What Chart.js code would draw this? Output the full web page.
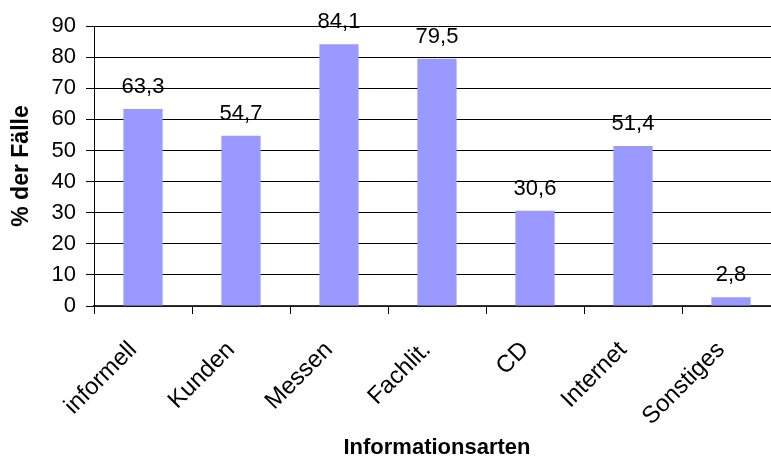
<!DOCTYPE html>
<html>
<head>
<meta charset="utf-8">
<script src="https://cdn.jsdelivr.net/npm/chart.js@4/dist/chart.umd.min.js"></script>
<style>
  html, body { margin: 0; padding: 0; background: #fff; overflow: hidden; }
  #wrap { position: relative; width: 790px; height: 461px; }
</style>
</head>
<body>
<div id="wrap"><canvas id="chart"></canvas></div>
<script>
// Informationsarten und Anteil der Fälle (%)
const categories = ['informell', 'Kunden', 'Messen', 'Fachlit.', 'CD', 'Internet', 'Sonstiges'];
const values = [63.3, 54.7, 84.1, 79.5, 30.6, 51.4, 2.8];

const FONT = "'Liberation Sans', Arial, sans-serif";

// value labels above each bar, German decimal comma
const valueLabels = {
    id: 'valueLabels',
    afterDatasetsDraw(chart) {
        const ctx = chart.ctx;
        const meta = chart.getDatasetMeta(0);
        ctx.save();
        ctx.font = '22px ' + FONT;
        ctx.fillStyle = '#000';
        ctx.textAlign = 'center';
        ctx.textBaseline = 'alphabetic';
        meta.data.forEach(function(bar, i) {
            const txt = values[i].toFixed(1).replace('.', ',');
            ctx.fillText(txt, bar.x, bar.y - 16);
        });
        ctx.restore();
    }
};

new Chart(document.getElementById('chart'), {
    type: 'bar',
    data: {
        labels: categories,
        datasets: [{
            data: values,
            backgroundColor: '#9999FF',
            borderWidth: 0,
            barPercentage: 0.4,
            categoryPercentage: 1.0
        }]
    },
    options: {
        responsive: true,
        maintainAspectRatio: false,
        animation: false,
        layout: { padding: { top: 26, right: 10, bottom: 0, left: 0 } },
        plugins: {
            legend: { display: false },
            tooltip: { enabled: false }
        },
        scales: {
            x: {
                offset: true,
                grid: {
                    offset: true,
                    drawOnChartArea: false,
                    color: '#000',
                    tickLength: 8
                },
                border: { color: '#333', width: 1.5 },
                ticks: {
                    color: '#000',
                    font: { family: FONT, size: 24 },
                    minRotation: 45,
                    maxRotation: 45,
                    padding: 22,
                    labelOffset: -10
                },
                title: {
                    display: true,
                    text: 'Informationsarten',
                    color: '#000',
                    font: { family: FONT, size: 22, weight: 'bold' },
                    padding: { top: 0, bottom: 0 }
                },
                afterFit(scale) { scale.height = 155; }
            },
            y: {
                min: 0,
                max: 90,
                grid: {
                    color: '#000',
                    tickLength: 8
                },
                border: { color: '#000' },
                ticks: {
                    stepSize: 10,
                    color: '#000',
                    font: { family: FONT, size: 22 },
                    padding: 10
                },
                title: {
                    display: true,
                    text: '% der Fälle',
                    color: '#000',
                    font: { family: FONT, size: 23, weight: 'bold' },
                    padding: { top: 8, bottom: 0 }
                },
                afterFit(scale) { scale.width = 94; }
            }
        }
    },
    plugins: [valueLabels]
});
</script>
</body>
</html>
